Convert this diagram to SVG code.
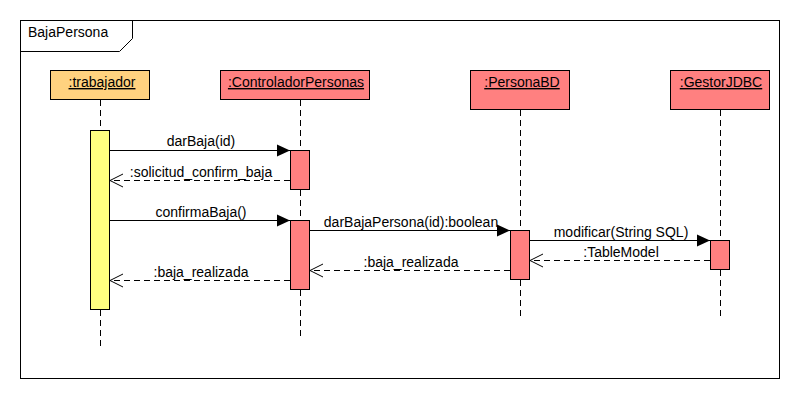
<svg xmlns="http://www.w3.org/2000/svg" width="800" height="400" viewBox="0 0 800 400">
<defs>
<marker id="filled" markerWidth="14" markerHeight="14" refX="13" refY="6.5" orient="auto" markerUnits="userSpaceOnUse">
<polygon points="0,0.5 13,6.5 0,12.5" fill="#000"/>
</marker>
<marker id="open" markerWidth="16" markerHeight="16" refX="14" refY="7" orient="auto" markerUnits="userSpaceOnUse">
<polyline points="1,0.5 14,7 1,13.5" fill="none" stroke="#000" stroke-width="1"/>
</marker>
</defs>
<style>
text{font-family:"Liberation Sans",Arial,sans-serif;font-size:14px;fill:#000}
.hdr{stroke:#000;stroke-width:1}
.orange{fill:#FFD27F}
.red{fill:#FF8080}
.yellow{fill:#FFFF80}
.life{stroke:#000;stroke-width:1;stroke-dasharray:6,4;fill:none}
.msg{stroke:#000;stroke-width:1;fill:none;marker-end:url(#filled)}
.ret{stroke:#000;stroke-width:1;fill:none;stroke-dasharray:6,4;marker-end:url(#open)}
.name{text-decoration:underline}
</style>
<rect x="0" y="0" width="800" height="400" fill="#fff"/>
<g id="frame">
<rect x="20.5" y="20.5" width="759" height="358" fill="none" stroke="#000"/>
<polyline points="20.5,51.5 119.5,51.5 132.5,38.5 132.5,20.5" fill="none" stroke="#000"/>
<text x="28" y="37">BajaPersona</text>
</g>
<g id="trabajador">
<line class="life" x1="100.5" y1="100" x2="100.5" y2="350"/>
<rect class="hdr orange" x="50.5" y="70.5" width="99" height="29"/>
<text class="name" x="102" y="87" text-anchor="middle">:trabajador</text>
<rect class="hdr yellow" x="90.5" y="130.5" width="19" height="179"/>
</g>
<g id="ControladorPersonas">
<line class="life" x1="300.5" y1="100" x2="300.5" y2="337"/>
<rect class="hdr red" x="220.5" y="70.5" width="149" height="29"/>
<text class="name" x="296" y="87" text-anchor="middle">:ControladorPersonas</text>
<rect class="hdr red" x="290.5" y="150.5" width="19" height="39"/>
<rect class="hdr red" x="290.5" y="220.5" width="19" height="69"/>
</g>
<g id="PersonaBD">
<line class="life" x1="520.5" y1="110" x2="520.5" y2="320"/>
<rect class="hdr red" x="470.5" y="70.5" width="99" height="39"/>
<text class="name" x="522" y="87" text-anchor="middle">:PersonaBD</text>
<rect class="hdr red" x="510.5" y="230.5" width="19" height="49"/>
</g>
<g id="GestorJDBC">
<line class="life" x1="720.5" y1="110" x2="720.5" y2="317"/>
<rect class="hdr red" x="670.5" y="70.5" width="99" height="39"/>
<text class="name" x="721" y="87" text-anchor="middle">:GestorJDBC</text>
<rect class="hdr red" x="710.5" y="240.5" width="19" height="29"/>
</g>
<g id="connectors">
<line class="msg" x1="110" y1="150.5" x2="290" y2="150.5"/>
<text x="201" y="146" text-anchor="middle">darBaja(id)</text>
<line class="ret" x1="290" y1="180.5" x2="110" y2="180.5"/>
<text x="201" y="177" text-anchor="middle">:solicitud_confirm_baja</text>
<line class="msg" x1="110" y1="220.5" x2="290" y2="220.5"/>
<text x="201" y="217" text-anchor="middle">confirmaBaja()</text>
<line class="msg" x1="310" y1="230.5" x2="510" y2="230.5"/>
<text x="411" y="227" text-anchor="middle">darBajaPersona(id):boolean</text>
<line class="msg" x1="530" y1="240.5" x2="710" y2="240.5"/>
<text x="621" y="237" text-anchor="middle">modificar(String SQL)</text>
<line class="ret" x1="710" y1="260.5" x2="530" y2="260.5"/>
<text x="621" y="257" text-anchor="middle">:TableModel</text>
<line class="ret" x1="510" y1="270.5" x2="310" y2="270.5"/>
<text x="411" y="267" text-anchor="middle">:baja_realizada</text>
<line class="ret" x1="290" y1="280.5" x2="110" y2="280.5"/>
<text x="201" y="277" text-anchor="middle">:baja_realizada</text>
</g>
</svg>
